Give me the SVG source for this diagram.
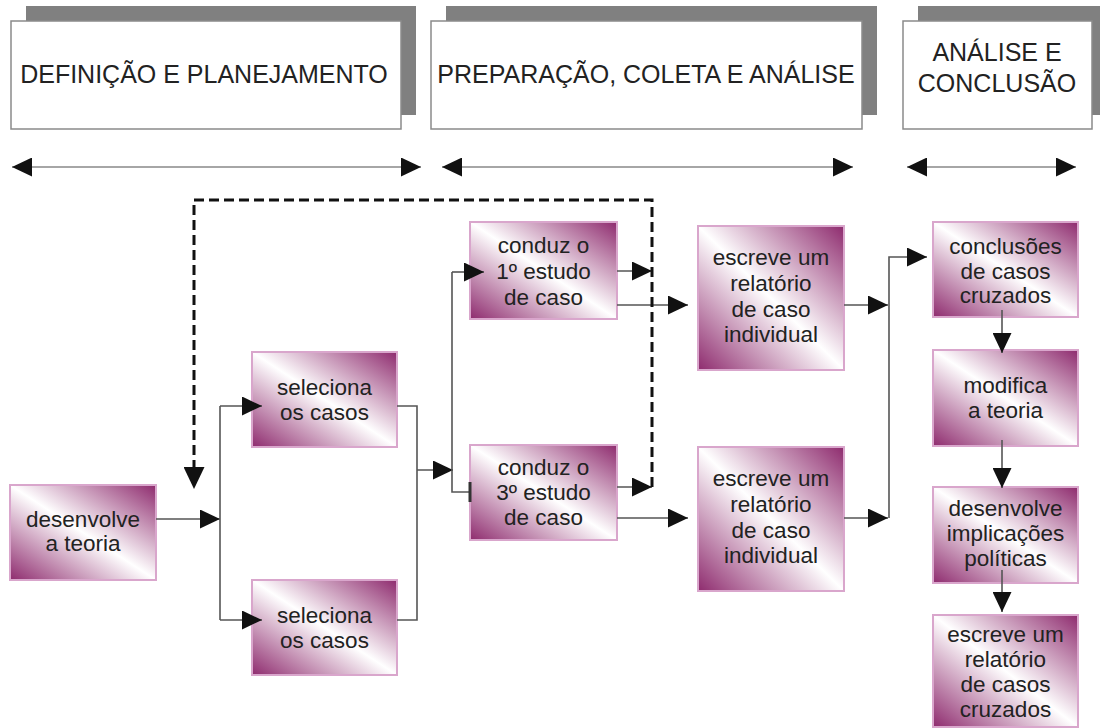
<svg xmlns="http://www.w3.org/2000/svg" width="1100" height="728" viewBox="0 0 1100 728">
<defs>
  <linearGradient id="g" x1="0" y1="1" x2="1" y2="0">
    <stop offset="0" stop-color="#8e2b6e"/>
    <stop offset="0.5" stop-color="#ffffff"/>
    <stop offset="1" stop-color="#8e2b6e"/>
  </linearGradient>
  <marker id="ah" viewBox="0 0 20 19" refX="20" refY="9.5" markerWidth="20" markerHeight="19" markerUnits="userSpaceOnUse" orient="auto-start-reverse">
    <path d="M0,0 L20,9.5 L0,19 Z" fill="#111"/>
  </marker>
  <marker id="ahd" viewBox="0 0 22 21" refX="22" refY="10.5" markerWidth="22" markerHeight="21" markerUnits="userSpaceOnUse" orient="auto">
    <path d="M0,0 L22,10.5 L0,21 Z" fill="#111"/>
  </marker>
</defs>
<style>
  .hdr-shadow { fill: #808080; }
  .hdr { fill: #ffffff; stroke: #8a8a8a; stroke-width: 1.5; }
  .ht { font-family: "Liberation Sans", Arial, sans-serif; font-size: 25px; fill: #222; text-anchor: middle; }
  .node { fill: url(#g); stroke: #d9a6cc; stroke-width: 2; }
  .nt { font-family: "Liberation Sans", Arial, sans-serif; font-size: 22.5px; fill: #222; text-anchor: middle; }
  .c { fill: none; stroke: #555; stroke-width: 1.6; }
  .ca { fill: none; stroke: #555; stroke-width: 1.6; marker-end: url(#ah); }
  .hd { fill: none; stroke: #888; stroke-width: 1.5; marker-start: url(#ah); marker-end: url(#ah); }
  .dash { fill: none; stroke: #111; stroke-width: 3; stroke-dasharray: 10 5; marker-end: url(#ahd); }
</style>
<rect width="1100" height="728" fill="#ffffff"/>

<g id="header1">
  <rect class="hdr-shadow" x="26" y="6" width="390" height="109"/>
  <rect class="hdr" x="11" y="21" width="390" height="108"/>
  <text class="ht" x="204" y="83">DEFINIÇÃO E PLANEJAMENTO</text>
</g>
<g id="header2">
  <rect class="hdr-shadow" x="446" y="6" width="431" height="109"/>
  <rect class="hdr" x="431" y="21" width="431" height="108"/>
  <text class="ht" x="646" y="83">PREPARAÇÃO, COLETA E ANÁLISE</text>
</g>
<g id="header3">
  <rect class="hdr-shadow" x="918" y="6" width="189" height="109"/>
  <rect class="hdr" x="903" y="21" width="189" height="108"/>
  <text class="ht" x="997" y="61">ANÁLISE E</text>
  <text class="ht" x="997" y="92">CONCLUSÃO</text>
</g>

<g id="phase-arrows">
  <path class="hd" d="M12,167 H421"/>
  <path class="hd" d="M442,167 H853"/>
  <path class="hd" d="M907,167 H1076"/>
</g>

<g id="n-desenvolve-teoria">
  <rect class="node" x="10" y="485" width="146" height="95"/>
  <text class="nt" x="83" y="527">desenvolve</text>
  <text class="nt" x="83" y="551">a teoria</text>
</g>
<g id="n-seleciona-1">
  <rect class="node" x="252" y="352" width="145" height="95"/>
  <text class="nt" x="324.5" y="395">seleciona</text>
  <text class="nt" x="324.5" y="420">os casos</text>
</g>
<g id="n-seleciona-2">
  <rect class="node" x="252" y="580" width="145" height="95"/>
  <text class="nt" x="324.5" y="623">seleciona</text>
  <text class="nt" x="324.5" y="648">os casos</text>
</g>
<g id="n-conduz-1">
  <rect class="node" x="470" y="222" width="147" height="97"/>
  <text class="nt" x="543.5" y="253">conduz o</text>
  <text class="nt" x="543.5" y="279">1º estudo</text>
  <text class="nt" x="543.5" y="305">de caso</text>
</g>
<g id="n-conduz-3">
  <rect class="node" x="470" y="445" width="147" height="95"/>
  <text class="nt" x="543.5" y="475">conduz o</text>
  <text class="nt" x="543.5" y="500">3º estudo</text>
  <text class="nt" x="543.5" y="525">de caso</text>
</g>
<g id="n-escreve-1">
  <rect class="node" x="698" y="226" width="146" height="144"/>
  <text class="nt" x="771" y="265">escreve um</text>
  <text class="nt" x="771" y="291">relatório</text>
  <text class="nt" x="771" y="317">de caso</text>
  <text class="nt" x="771" y="342">individual</text>
</g>
<g id="n-escreve-2">
  <rect class="node" x="698" y="447" width="146" height="144"/>
  <text class="nt" x="771" y="486">escreve um</text>
  <text class="nt" x="771" y="512">relatório</text>
  <text class="nt" x="771" y="538">de caso</text>
  <text class="nt" x="771" y="563">individual</text>
</g>
<g id="n-conclusoes">
  <rect class="node" x="933" y="222" width="145" height="95"/>
  <text class="nt" x="1005.5" y="254">conclusões</text>
  <text class="nt" x="1005.5" y="279">de casos</text>
  <text class="nt" x="1005.5" y="303">cruzados</text>
</g>
<g id="n-modifica">
  <rect class="node" x="933" y="350" width="145" height="96"/>
  <text class="nt" x="1005.5" y="393">modifica</text>
  <text class="nt" x="1005.5" y="418">a teoria</text>
</g>
<g id="n-implicacoes">
  <rect class="node" x="933" y="487" width="145" height="96"/>
  <text class="nt" x="1005.5" y="516">desenvolve</text>
  <text class="nt" x="1005.5" y="541">implicações</text>
  <text class="nt" x="1005.5" y="566">políticas</text>
</g>
<g id="n-relatorio-cruzado">
  <rect class="node" x="933" y="615" width="145" height="112"/>
  <text class="nt" x="1005.5" y="642">escreve um</text>
  <text class="nt" x="1005.5" y="667">relatório</text>
  <text class="nt" x="1005.5" y="692">de casos</text>
  <text class="nt" x="1005.5" y="717">cruzados</text>
</g>

<g id="connectors">
  <path class="ca" d="M156,519 H220"/>
  <path class="c" d="M220,406 V620"/>
  <path class="ca" d="M220,406 H262"/>
  <path class="ca" d="M220,620 H262"/>
  <path class="c" d="M397,406 H417 V620 H397"/>
  <path class="ca" d="M417,470 H453"/>
  <path class="c" d="M452,272 V492 H470"/>
  <path class="ca" d="M452,272 H484"/>
  <path d="M470,482 V502" stroke="#333" stroke-width="3"/>
  <path class="ca" d="M617,271 H652"/>
  <path class="ca" d="M617,305 H688"/>
  <path class="ca" d="M617,487 H652"/>
  <path class="ca" d="M617,518 H688"/>
  <path class="ca" d="M844,305 H888"/>
  <path class="ca" d="M844,518 H888"/>
  <path class="ca" d="M889,518 V257 H927"/>
  <path class="ca" d="M1002,310 V353"/>
  <path class="ca" d="M1002,440 V488"/>
  <path class="ca" d="M1002,570 V612"/>
  <path class="dash" d="M652,487 V200 H194 V489"/>
</g>
</svg>
